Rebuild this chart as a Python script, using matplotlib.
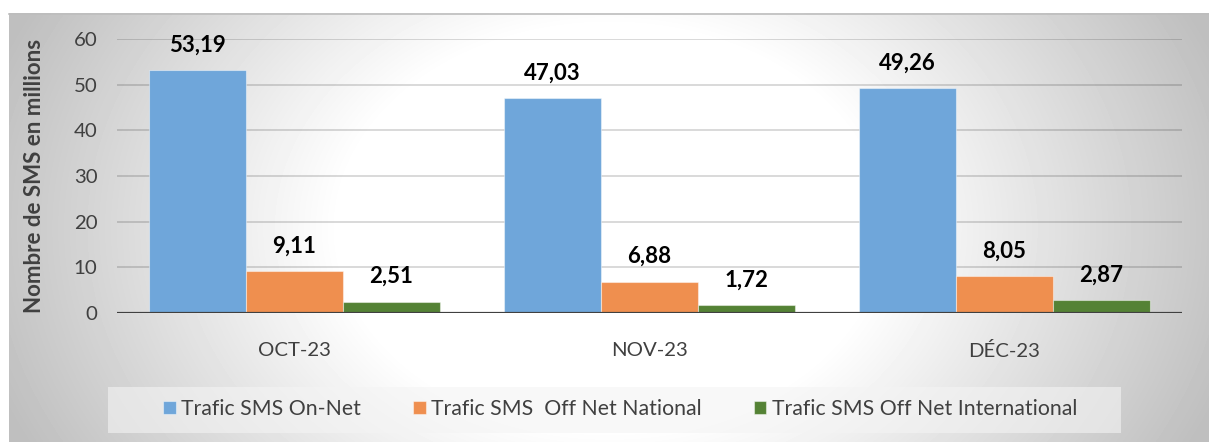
import numpy as np
import matplotlib.pyplot as plt
from matplotlib.patches import Rectangle

plt.rcParams['font.family'] = ['Lato', 'DejaVu Sans']

# données
mois = ['OCT-23', 'NOV-23', 'DÉC-23']
series = ['Trafic SMS On-Net', 'Trafic SMS  Off Net National', 'Trafic SMS Off Net International']
on_net = [53.19, 47.03, 49.26]
off_net_nat = [9.11, 6.88, 8.05]
off_net_int = [2.51, 1.72, 2.87]
couleurs = ['#6fa6da', '#ef8f4f', '#548235']

W, H = 1209, 442
fig = plt.figure(figsize=(W / 100, H / 100), dpi=100)

# fond : dégradé radial gris -> blanc
bg = fig.add_axes([0, 0, 1, 1])
yy, xx = np.mgrid[0:H, 0:W]
d = np.sqrt(((xx - 609) / 600) ** 2 + ((yy - 228) / 450) ** 2)
g = 1 - 0.22 * np.clip((d - 0.45) / 0.55, 0, 1.15)
g[(yy < 13) | (xx < 9)] = 1.0
bg.imshow(g, cmap='gray', vmin=0, vmax=1, extent=(0, W, H, 0), aspect='auto', interpolation='bilinear')
bg.plot([9, W], [13.5, 13.5], color='#bdbdbd', lw=1.2)
bg.add_patch(Rectangle((108, 387), 1013, 46, facecolor='#f4f4f4', alpha=0.6, edgecolor='none'))
bg.set_xlim(0, W)
bg.set_ylim(H, 0)
bg.axis('off')

# graphique
ax = fig.add_axes([117 / W, 129 / H, 1065 / W, 274 / H])
ax.set_facecolor('none')
x = np.arange(len(mois))
w = 0.273
barres = []
for i, vals in enumerate([on_net, off_net_nat, off_net_int]):
    b = ax.bar(x + (i - 1) * w, vals, w, color=couleurs[i], edgecolor=(1, 1, 1, 0.45),
               linewidth=0.8, zorder=3, label=series[i])
    barres.append(b)
    for xi, v in zip(x + (i - 1) * w, vals):
        ax.annotate(f'{v:.2f}'.replace('.', ','), (xi, v), xytext=(0, 25), textcoords='offset pixels',
                    ha='center', va='center', fontweight='bold', fontsize=16, color='black')

ax.set_xlim(-0.5, 2.5)
ax.set_ylim(0, 60)
ax.set_yticks(range(0, 70, 10))
ax.set_xticks(x)
ax.set_xticklabels(mois)
ax.yaxis.grid(True, color='black', alpha=0.15, lw=1.4)
ax.set_axisbelow(True)
ax.axhline(0, color='#404040', lw=2.3, zorder=4)
for s in ax.spines.values():
    s.set_visible(False)
ax.tick_params(axis='both', length=0, labelsize=14.7, colors='#404040')
ax.tick_params(axis='y', pad=14)
ax.tick_params(axis='x', pad=21)
ax.set_ylabel('Nombre de SMS en millions', fontsize=16, fontweight='bold', color='#404040')
ax.yaxis.set_label_coords(-0.0676, 0.5)

fig.legend(handles=barres, loc='center', bbox_to_anchor=(620 / W, 1 - 409 / H), ncol=3,
           frameon=False, fontsize=15.3, handlelength=0.6, handleheight=0.6,
           handletextpad=0.25, columnspacing=2.45, labelcolor='#404040')

fig.savefig('out.png', dpi=100)
